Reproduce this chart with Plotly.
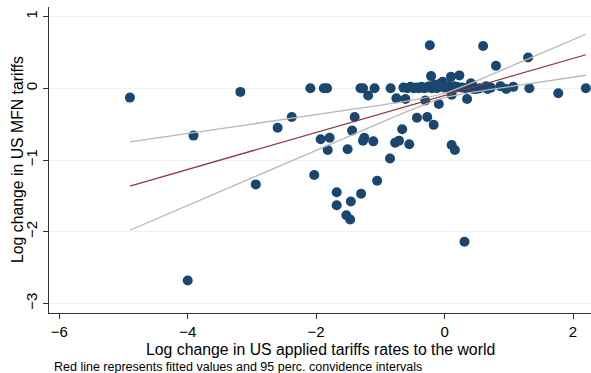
import plotly.graph_objects as go

# Product-level log changes in US tariffs
applied_change = [
    -4.90, -3.91, -3.18, -2.94, -4.00, -2.60, -2.38, -2.09, -1.88, -1.83,
    -2.03, -1.93, -1.79, -1.82, -1.44, -1.51, -1.40, -1.25, -1.27, -1.11,
    -0.66, -0.77, -0.71, -0.55, -0.85, -0.43, -0.27, -0.17, 0.11, 0.16,
    -1.05, -1.68, -1.30, -1.46, -1.68, -1.53, -1.47, 0.31,
    -0.23, 0.60, 1.30, 0.80, -0.21, 0.10, 0.23, -0.03, -0.08, 0.41,
    0.43, 0.45, 0.65, 0.67, 0.87, 0.96, 1.07, 1.32, 1.77, 2.20,
    0.35, 0.11, -0.09, -0.30, -0.61, -0.75, -1.19, 0.50,
    -1.31, -1.27, -1.09, -0.84, -0.64, -0.58, -0.53, -0.48, -0.44, -0.40,
    -0.36, -0.32, -0.28, -0.24, -0.20, -0.16, -0.12, -0.06, 0.00, 0.04,
    0.09, 0.14, 0.19, 0.27, 0.33, 0.38, 0.55, 0.72, -0.15, 0.06,
]
mfn_change = [
    -0.13, -0.66, -0.05, -1.34, -2.68, -0.55, -0.40, 0.00, 0.00, 0.00,
    -1.21, -0.71, -0.69, -0.86, -0.59, -0.85, -0.40, -0.69, -0.73, -0.74,
    -0.57, -0.76, -0.73, -0.78, -0.98, -0.41, -0.40, -0.51, -0.79, -0.86,
    -1.29, -1.45, -1.47, -1.58, -1.63, -1.77, -1.83, -2.14,
    0.60, 0.59, 0.43, 0.315, 0.17, 0.16, 0.18, 0.09, 0.06, 0.07,
    0.05, -0.01, 0.03, -0.01, 0.03, -0.01, 0.02, 0.00, -0.07, 0.00,
    -0.15, -0.09, -0.22, -0.17, -0.15, -0.14, -0.10, -0.01,
    0.00, 0.00, 0.00, 0.00, 0.01, 0.00, 0.02, 0.00, 0.01, 0.00,
    0.02, 0.00, 0.01, 0.03, 0.00, 0.02, 0.00, 0.03, 0.01, 0.02,
    0.00, 0.03, 0.02, 0.01, 0.00, 0.02, 0.00, 0.01, 0.05, 0.04,
]

# Linear fit and 95% confidence band for the fitted values
fit_x = [-4.9, -3.0, -1.5, -0.5, 0.0, 0.5, 1.2, 2.2]
fit_y = [-1.364, -0.874, -0.487, -0.229, -0.100, 0.029, 0.210, 0.468]
ci_lower = [-1.980, -1.249, -0.674, -0.294, -0.131, -0.047, 0.049, 0.182]
ci_upper = [-0.748, -0.499, -0.300, -0.164, -0.069, 0.105, 0.371, 0.754]

x_ticks = [-6, -4, -2, 0, 2]
y_ticks = [-3, -2, -1, 0, 1]

NAVY = "#1a476f"
MAROON = "#90353b"
GRAY = "#b8b8b8"
GRID = "#eaf2f3"
FONT = "Liberation Sans, Arial, sans-serif"

fig = go.Figure()

fig.add_trace(go.Scatter(
    x=applied_change, y=mfn_change, mode="markers",
    marker=dict(color=NAVY, size=10, line=dict(width=0)),
    showlegend=False,
))
for band in (ci_lower, ci_upper):
    fig.add_trace(go.Scatter(
        x=fit_x, y=band, mode="lines", line=dict(color=GRAY, width=1.3),
        line_shape="spline", showlegend=False,
    ))
fig.add_trace(go.Scatter(
    x=fit_x, y=fit_y, mode="lines", line=dict(color=MAROON, width=1.3),
    showlegend=False,
))

fig.update_layout(
    width=591, height=373,
    margin=dict(l=49, r=0, t=7, b=60),
    paper_bgcolor="white", plot_bgcolor="white",
    font=dict(family=FONT, color="black"),
    xaxis=dict(
        range=[-6.16, 2.28], tickvals=x_ticks, ticks="outside", ticklen=5,
        tickcolor="#333", showgrid=False, zeroline=False, showline=True,
        linecolor="#333", linewidth=1, tickfont=dict(size=15),
    ),
    yaxis=dict(
        range=[-3.134, 1.134], tickvals=y_ticks, ticks="outside", ticklen=5,
        tickcolor="#333", showgrid=True, gridcolor=GRID, gridwidth=1.2,
        zeroline=False, showline=True, linecolor="#333", linewidth=1,
        tickangle=-90, tickfont=dict(size=15),
    ),
    annotations=[
        dict(text="Log change in US applied tariffs rates to the world",
             xref="paper", yref="paper", x=0.5, y=0, xanchor="center",
             yanchor="middle", yshift=-36, showarrow=False,
             font=dict(size=15.8)),
        dict(text="Log change in US MFN tariffs", textangle=-90,
             xref="paper", yref="paper", x=0, y=0.5, xanchor="center",
             yanchor="middle", xshift=-32, showarrow=False,
             font=dict(size=15.8)),
        dict(text="Red line represents fitted values and 95 perc. convidence intervals",
             xref="paper", yref="paper", x=0, y=0, xanchor="left",
             yanchor="middle", xshift=3, yshift=-54, showarrow=False,
             font=dict(size=12.5)),
    ],
)

fig.write_html("out.html")
